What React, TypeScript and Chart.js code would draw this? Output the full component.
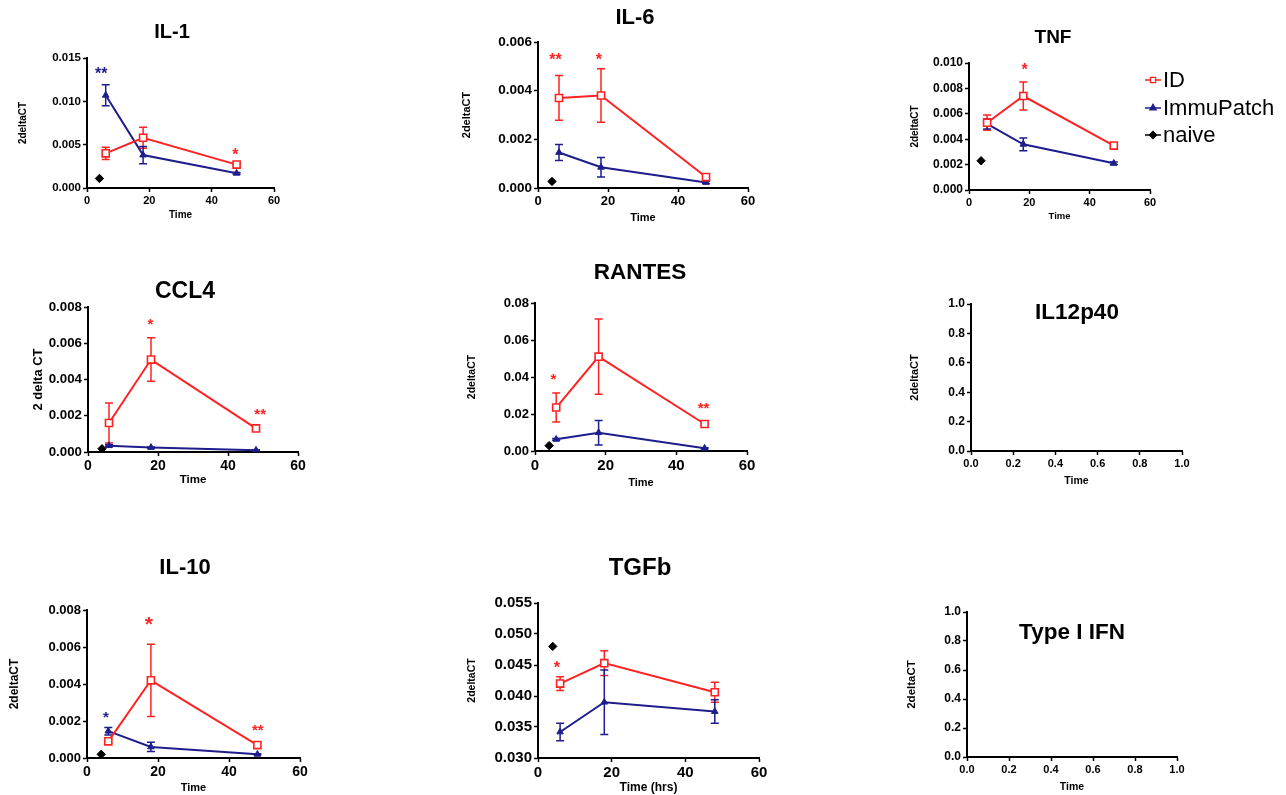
import React, { useEffect, useRef } from 'react';
import { Chart, registerables } from 'chart.js';
import { drawPoint } from 'chart.js/helpers';

Chart.register(...registerables);

const FONT = "'Liberation Sans', Arial, Helvetica, sans-serif";
const RED = '#ff2222';
const NAVY = '#1d1d8c';
const BLACK = '#000000';

// ---------- shared categories ----------
const SERIES = ['ID', 'ImmuPatch', 'naive'];
const TIMES = [6, 18, 48];
const NAIVE_TIME = [4];
const HOUR_TICKS = [0, 20, 40, 60];
const UNIT_TICKS = [0, 0.2, 0.4, 0.6, 0.8, 1.0];

// ---------- IL-1 ----------
const IL1_ID = [0.004, 0.0058, 0.0027];
const IL1_ID_SEM = [0.0007, 0.0012, 0.0002];
const IL1_IP = [0.0107, 0.0038, 0.0017];
const IL1_IP_SEM = [0.0012, 0.001, 0.0001];
const IL1_NAIVE = [0.0011];
const IL1_Y_TICKS = [0, 0.005, 0.01, 0.015];
const IL1_STARS = [
  { x: 4.6, y: 0.0136, text: '**', series: 'ImmuPatch' },
  { x: 47.6, y: 0.0042, text: '*', series: 'ID' },
];

// ---------- IL-6 ----------
const IL6_ID = [0.0037, 0.0038, 0.00045];
const IL6_ID_SEM = [0.00092, 0.0011, 0.0001];
const IL6_IP = [0.00146, 0.00085, 0.00023];
const IL6_IP_SEM = [0.00033, 0.0004, 0.00005];
const IL6_NAIVE = [0.00027];
const IL6_Y_TICKS = [0, 0.002, 0.004, 0.006];
const IL6_STARS = [
  { x: 5.0, y: 0.0054, text: '**', series: 'ID' },
  { x: 17.4, y: 0.0054, text: '*', series: 'ID' },
];

// ---------- TNF ----------
const TNF_ID = [0.0053, 0.0074, 0.0035];
const TNF_ID_SEM = [0.0006, 0.0011, 0.0002];
const TNF_IP = [0.0052, 0.0036, 0.0021];
const TNF_IP_SEM = [0.0004, 0.0005, 0.0001];
const TNF_NAIVE = [0.0023];
const TNF_Y_TICKS = [0, 0.002, 0.004, 0.006, 0.008, 0.01];
const TNF_STARS = [{ x: 18.4, y: 0.0097, text: '*', series: 'ID' }];

// ---------- CCL4 ----------
const CCL4_ID = [0.0016, 0.0051, 0.0013];
const CCL4_ID_SEM = [0.0011, 0.0012, 0.0001];
const CCL4_IP = [0.00035, 0.00025, 0.0001];
const CCL4_IP_SEM = [0.00005, 0.00003, 0.00002];
const CCL4_NAIVE = [0.00018];
const CCL4_Y_TICKS = [0, 0.002, 0.004, 0.006, 0.008];
const CCL4_STARS = [
  { x: 17.8, y: 0.0072, text: '*', series: 'ID' },
  { x: 49.2, y: 0.0022, text: '**', series: 'ID' },
];

// ---------- RANTES ----------
const RANTES_ID = [0.0235, 0.051, 0.0146];
const RANTES_ID_SEM = [0.0078, 0.0203, 0.0005];
const RANTES_IP = [0.0063, 0.0099, 0.0015];
const RANTES_IP_SEM = [0.0005, 0.0066, 0.0003];
const RANTES_NAIVE = [0.0029];
const RANTES_Y_TICKS = [0, 0.02, 0.04, 0.06, 0.08];
const RANTES_STARS = [
  { x: 5.2, y: 0.04, text: '*', series: 'ID' },
  { x: 47.7, y: 0.0245, text: '**', series: 'ID' },
];

// ---------- IL-10 ----------
const IL10_ID = [0.0009, 0.0042, 0.0007];
const IL10_ID_SEM = [0.0001, 0.00195, 0.0001];
const IL10_IP = [0.00145, 0.0006, 0.0002];
const IL10_IP_SEM = [0.0002, 0.00025, 0.00003];
const IL10_NAIVE = [0.0002];
const IL10_Y_TICKS = [0, 0.002, 0.004, 0.006, 0.008];
const IL10_STARS = [
  { x: 17.4, y: 0.0074, text: '*', series: 'ID' },
  { x: 5.3, y: 0.0023, text: '*', series: 'ImmuPatch' },
  { x: 48.1, y: 0.0016, text: '**', series: 'ID' },
];

// ---------- TGFb ----------
const TGFB_ID = [0.042, 0.0453, 0.0406];
const TGFB_ID_SEM = [0.0011, 0.002, 0.0016];
const TGFB_IP = [0.0342, 0.039, 0.0375];
const TGFB_IP_SEM = [0.0014, 0.0052, 0.0019];
const TGFB_NAIVE = [0.048];
const TGFB_Y_TICKS = [0.03, 0.035, 0.04, 0.045, 0.05, 0.055];
const TGFB_STARS = [{ x: 5.1, y: 0.0451, text: '*', series: 'ID' }];

// ---------- panels (content) ----------
const PANELS: any[] = [
  { title: 'IL-1', id: IL1_ID, idSem: IL1_ID_SEM, ip: IL1_IP, ipSem: IL1_IP_SEM, naive: IL1_NAIVE, yTicks: IL1_Y_TICKS, xTicks: HOUR_TICKS, yDec: 3, xDec: 0, yTitle: '2deltaCT', xTitle: 'Time', stars: IL1_STARS },
  { title: 'IL-6', id: IL6_ID, idSem: IL6_ID_SEM, ip: IL6_IP, ipSem: IL6_IP_SEM, naive: IL6_NAIVE, yTicks: IL6_Y_TICKS, xTicks: HOUR_TICKS, yDec: 3, xDec: 0, yTitle: '2deltaCT', xTitle: 'Time', stars: IL6_STARS },
  { title: 'TNF', id: TNF_ID, idSem: TNF_ID_SEM, ip: TNF_IP, ipSem: TNF_IP_SEM, naive: TNF_NAIVE, yTicks: TNF_Y_TICKS, xTicks: HOUR_TICKS, yDec: 3, xDec: 0, yTitle: '2deltaCT', xTitle: 'Time', stars: TNF_STARS },
  { title: 'CCL4', id: CCL4_ID, idSem: CCL4_ID_SEM, ip: CCL4_IP, ipSem: CCL4_IP_SEM, naive: CCL4_NAIVE, yTicks: CCL4_Y_TICKS, xTicks: HOUR_TICKS, yDec: 3, xDec: 0, yTitle: '2 delta CT', xTitle: 'Time', stars: CCL4_STARS },
  { title: 'RANTES', id: RANTES_ID, idSem: RANTES_ID_SEM, ip: RANTES_IP, ipSem: RANTES_IP_SEM, naive: RANTES_NAIVE, yTicks: RANTES_Y_TICKS, xTicks: HOUR_TICKS, yDec: 2, xDec: 0, yTitle: '2deltaCT', xTitle: 'Time', stars: RANTES_STARS },
  { title: 'IL12p40', yTicks: UNIT_TICKS, xTicks: UNIT_TICKS, yDec: 1, xDec: 1, yTitle: '2deltaCT', xTitle: 'Time', stars: [] },
  { title: 'IL-10', id: IL10_ID, idSem: IL10_ID_SEM, ip: IL10_IP, ipSem: IL10_IP_SEM, naive: IL10_NAIVE, yTicks: IL10_Y_TICKS, xTicks: HOUR_TICKS, yDec: 3, xDec: 0, yTitle: '2deltaCT', xTitle: 'Time', stars: IL10_STARS },
  { title: 'TGFb', id: TGFB_ID, idSem: TGFB_ID_SEM, ip: TGFB_IP, ipSem: TGFB_IP_SEM, naive: TGFB_NAIVE, yTicks: TGFB_Y_TICKS, xTicks: HOUR_TICKS, yDec: 3, xDec: 0, yTitle: '2deltaCT', xTitle: 'Time (hrs)', stars: TGFB_STARS },
  { title: 'Type I IFN', yTicks: UNIT_TICKS, xTicks: UNIT_TICKS, yDec: 1, xDec: 1, yTitle: '2deltaCT', xTitle: 'Time', stars: [] },
];

// ---------- layout (positions / sizes / styles) ----------
const LAYOUT: any[] = [
  { plot: [87, 58, 274, 188], titleX: 172, titleY: 32, titleSize: 20, yTitleX: 23, yTitleSize: 10, xTitleY: 215, xTitleSize: 10, yTickSize: 11.5, xTickSize: 11, starSizes: [16, 16] },
  { plot: [538, 42, 748, 188], titleX: 635, titleY: 18, titleSize: 22, yTitleX: 467, yTitleSize: 11, xTitleY: 218, xTitleSize: 11, yTickSize: 13.5, xTickSize: 13, starSizes: [16, 16] },
  { plot: [969, 63, 1150, 190], titleX: 1053, titleY: 38, titleSize: 19, yTitleX: 915, yTitleSize: 10, xTitleY: 216, xTitleSize: 9.5, yTickSize: 12, xTickSize: 11, starSizes: [16], legend: { dx: -5, len: 16, textDx: 18, rows: [17, 45, 72], size: 22, marker: 3.6 } },
  { plot: [88, 307, 298, 452], titleX: 185, titleY: 292, titleSize: 23, yTitleX: 38, yTitleSize: 13, xTitleY: 480, xTitleSize: 11.5, yTickSize: 13.3, xTickSize: 14, starSizes: [15, 15] },
  { plot: [535, 303, 747, 451], titleX: 640, titleY: 273, titleSize: 22.5, yTitleX: 472, yTitleSize: 10.5, xTitleY: 483, xTitleSize: 11, yTickSize: 13, xTickSize: 15, starSizes: [15, 15] },
  { plot: [971, 304, 1182, 451], titleX: 1077, titleY: 313, titleSize: 22.5, yTitleX: 915, yTitleSize: 11, xTitleY: 481, xTitleSize: 10.5, yTickSize: 12, xTickSize: 11, starSizes: [] },
  { plot: [87, 610, 300, 758], titleX: 185, titleY: 568, titleSize: 22, yTitleX: 15, yTitleSize: 12, xTitleY: 788, xTitleSize: 11, yTickSize: 13, xTickSize: 14, starSizes: [21, 15, 15] },
  { plot: [538, 603, 759, 758], titleX: 640, titleY: 568, titleSize: 24, yTitleX: 472, yTitleSize: 10.5, xTitleY: 788, xTitleSize: 12, yTickSize: 15, xTickSize: 15, starSizes: [16] },
  { plot: [967, 612, 1177, 757], titleX: 1072, titleY: 633, titleSize: 22.5, yTitleX: 912, yTitleSize: 11.5, xTitleY: 787, xTitleSize: 10.5, yTickSize: 12, xTickSize: 11, starSizes: [] },
];

const SERIES_COLOR: any = { ID: RED, ImmuPatch: NAVY, naive: BLACK };

function geometry(L: any) {
  const [pl, pt, pr, pb] = L.plot;
  const scaleLeft = L.yTitleX - 0.6 * L.yTitleSize;
  const left = Math.floor(scaleLeft) - 3;
  const scaleBottom = L.xTitleY + 0.6 * L.xTitleSize;
  const bottom = Math.ceil(scaleBottom) + 3;
  const top = Math.floor(Math.min(pt, L.titleY - L.titleSize)) - 12;
  const right = L.legend ? 1286 : pr + 28;
  return {
    left,
    top,
    w: right - left,
    h: bottom - top,
    pad: { left: scaleLeft - left, top: pt - top, right: right - pr, bottom: bottom - scaleBottom },
    yWidth: pl - scaleLeft,
    xHeight: scaleBottom - pb,
  };
}

function axis(ticks: number[], dec: number, tickSize: number, title: string, titleSize: number, fit: (s: any) => void) {
  return {
    type: 'linear',
    min: ticks[0],
    max: ticks[ticks.length - 1],
    afterBuildTicks: (s: any) => {
      s.ticks = ticks.map((v) => ({ value: v }));
    },
    afterFit: fit,
    grid: { display: true, drawOnChartArea: false, drawTicks: true, tickLength: 4, tickWidth: 1.5, tickColor: BLACK, color: BLACK },
    border: { display: true, color: BLACK, width: 2 },
    ticks: {
      color: BLACK,
      padding: 2,
      autoSkip: false,
      maxRotation: 0,
      font: { family: FONT, size: tickSize, weight: 'bold' },
      callback: (v: any) => Number(v).toFixed(dec),
    },
    title: { display: true, text: title, color: BLACK, padding: 0, font: { family: FONT, size: titleSize, weight: 'bold', lineHeight: 1.2 } },
  };
}

function makeConfig(P: any, L: any, g: any) {
  const datasets: any[] = [];
  if (P.id) {
    datasets.push({
      label: SERIES[0],
      data: TIMES.map((t, i) => ({ x: t, y: P.id[i] })),
      sem: P.idSem,
      showLine: true,
      borderColor: RED,
      backgroundColor: RED,
      borderWidth: 2,
      pointStyle: 'rect',
      pointRadius: 5,
      pointBorderWidth: 1.6,
      pointBackgroundColor: '#ffffff',
      pointBorderColor: RED,
    });
    datasets.push({
      label: SERIES[1],
      data: TIMES.map((t, i) => ({ x: t, y: P.ip[i] })),
      sem: P.ipSem,
      showLine: true,
      borderColor: NAVY,
      backgroundColor: NAVY,
      borderWidth: 2,
      pointStyle: 'triangle',
      pointRadius: 3.8,
      pointBorderWidth: 1,
      pointBackgroundColor: NAVY,
      pointBorderColor: NAVY,
    });
    datasets.push({
      label: SERIES[2],
      data: NAIVE_TIME.map((t, i) => ({ x: t, y: P.naive[i] })),
      showLine: false,
      borderColor: BLACK,
      backgroundColor: BLACK,
      pointStyle: 'rectRot',
      pointRadius: 4.2,
      pointBorderWidth: 1,
      pointBackgroundColor: BLACK,
      pointBorderColor: BLACK,
    });
  }

  const errorBars = {
    id: 'errorBars',
    beforeDatasetsDraw(chart: any) {
      const { ctx, scales } = chart;
      const xs = scales.x;
      const ys = scales.y;
      chart.data.datasets.forEach((ds: any) => {
        if (!ds.sem) return;
        ctx.save();
        ctx.strokeStyle = ds.borderColor;
        ctx.lineWidth = 1.5;
        ds.data.forEach((p: any, j: number) => {
          const px = xs.getPixelForValue(p.x);
          const t = ys.getPixelForValue(p.y + ds.sem[j]);
          const b = ys.getPixelForValue(p.y - ds.sem[j]);
          const cap = 4;
          ctx.beginPath();
          ctx.moveTo(px, t);
          ctx.lineTo(px, b);
          ctx.moveTo(px - cap, t);
          ctx.lineTo(px + cap, t);
          ctx.moveTo(px - cap, b);
          ctx.lineTo(px + cap, b);
          ctx.stroke();
        });
        ctx.restore();
      });
    },
  };

  const stars = {
    id: 'stars',
    afterDatasetsDraw(chart: any) {
      const { ctx, scales } = chart;
      P.stars.forEach((s: any, i: number) => {
        const px = scales.x.getPixelForValue(s.x);
        const py = scales.y.getPixelForValue(s.y);
        ctx.save();
        ctx.font = `bold ${L.starSizes[i] || 16}px ${FONT}`;
        ctx.fillStyle = SERIES_COLOR[s.series];
        ctx.textAlign = 'center';
        ctx.textBaseline = 'alphabetic';
        const m = ctx.measureText(s.text);
        const off = (m.actualBoundingBoxAscent - m.actualBoundingBoxDescent) / 2;
        ctx.fillText(s.text, px, py + off);
        ctx.restore();
      });
    },
  };

  const title = {
    id: 'panelTitle',
    afterDraw(chart: any) {
      const { ctx, chartArea } = chart;
      ctx.save();
      ctx.font = `bold ${L.titleSize}px ${FONT}`;
      ctx.fillStyle = BLACK;
      ctx.textAlign = 'center';
      ctx.textBaseline = 'middle';
      ctx.fillText(P.title, chartArea.left + (L.titleX - L.plot[0]), chartArea.top + (L.titleY - L.plot[1]));
      ctx.restore();
    },
  };

  const legend = {
    id: 'sideLegend',
    afterDraw(chart: any) {
      if (!L.legend) return;
      const { ctx, chartArea } = chart;
      const lg = L.legend;
      chart.data.datasets.forEach((ds: any, i: number) => {
        const y = chartArea.top + lg.rows[i];
        const x0 = chartArea.right + lg.dx;
        ctx.save();
        ctx.strokeStyle = ds.borderColor;
        ctx.lineWidth = 1.5;
        ctx.beginPath();
        ctx.moveTo(x0, y);
        ctx.lineTo(x0 + lg.len, y);
        ctx.stroke();
        ctx.fillStyle = ds.pointBackgroundColor;
        ctx.strokeStyle = ds.pointBorderColor;
        ctx.lineWidth = 1.3;
        drawPoint(ctx, { pointStyle: ds.pointStyle, radius: lg.marker, borderWidth: 1.3, rotation: 0 } as any, x0 + lg.len / 2, y);
        ctx.fillStyle = BLACK;
        ctx.font = `${lg.size}px ${FONT}`;
        ctx.textAlign = 'left';
        ctx.textBaseline = 'middle';
        ctx.fillText(ds.label, x0 + lg.textDx, y + 1);
        ctx.restore();
      });
    },
  };

  return {
    type: 'scatter',
    data: { datasets },
    plugins: [errorBars, stars, title, legend],
    options: {
      responsive: false,
      maintainAspectRatio: false,
      animation: false,
      events: [],
      layout: { padding: g.pad },
      elements: { line: { tension: 0 } },
      plugins: { legend: { display: false }, tooltip: { enabled: false }, title: { display: false } },
      scales: {
        x: axis(P.xTicks, P.xDec, L.xTickSize, P.xTitle, L.xTitleSize, (s: any) => {
          s.height = g.xHeight;
        }),
        y: axis(P.yTicks, P.yDec, L.yTickSize, P.yTitle, L.yTitleSize, (s: any) => {
          s.width = g.yWidth;
        }),
      },
    },
  };
}

function Panel({ data, layout }: { data: any; layout: any }) {
  const ref = useRef<HTMLCanvasElement | null>(null);
  const g = geometry(layout);
  useEffect(() => {
    if (!ref.current) return;
    const chart = new Chart(ref.current, makeConfig(data, layout, g) as any);
    return () => chart.destroy();
  }, []);
  return (
    <canvas
      ref={ref}
      width={g.w}
      height={g.h}
      style={{ position: 'absolute', left: g.left, top: g.top, width: g.w, height: g.h }}
    />
  );
}

export default function App() {
  return (
    <div style={{ position: 'absolute', left: 0, top: 0, width: 1286, height: 795, overflow: 'hidden', background: '#ffffff' }}>
      {PANELS.map((p, i) => (
        <Panel key={p.title} data={p} layout={LAYOUT[i]} />
      ))}
    </div>
  );
}
